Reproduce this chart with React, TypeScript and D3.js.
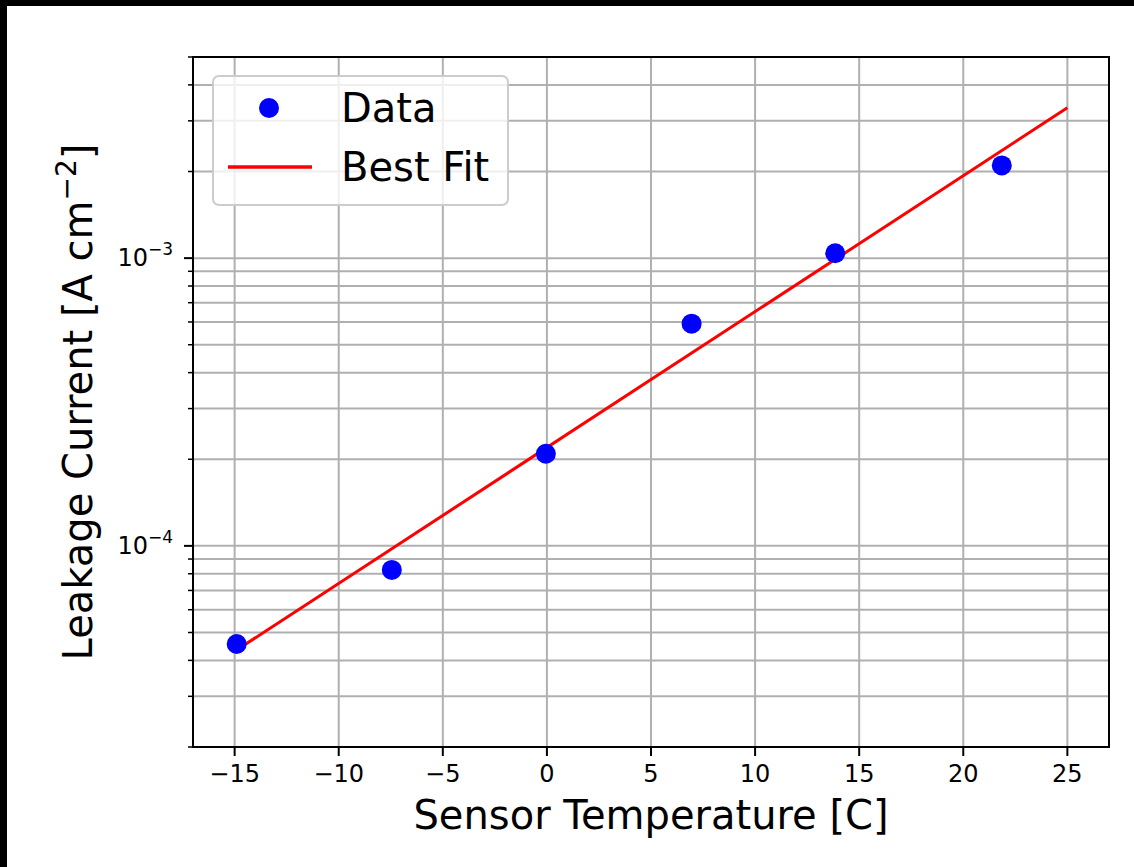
import React from "react";
import * as d3 from "d3";

const xTicks = [-15, -10, -5, 0, 5, 10, 15, 20, 25];
const yMajorExps = [-4, -3];
const dataTemp = [-14.9, -7.45, -0.05, 6.95, 13.85, 21.85];
const dataCurrent = [4.56e-5, 8.25e-5, 2.09e-4, 5.92e-4, 1.04e-3, 2.1e-3];
const fitTemp = [-15, 25];
const fitCurrent = [4.3e-5, 3.33e-3];
const legendLabels = ["Data", "Best Fit"];

const W = 1134;
const H = 867;
const left = 193, right = 1109, top = 57, bottom = 747;
const FONT = "'DejaVu Sans', sans-serif";

export default function App() {
  const x = d3.scaleLinear().domain([-17, 27]).range([left, right]);
  const y = d3.scaleLog().domain([2e-5, 5e-3]).range([bottom, top]);
  const allY = y.ticks().filter((v) => v >= 2e-5 * 0.999 && v <= 5e-3 * 1.001);
  const isMajor = (v: number) => Math.abs(Math.log10(v) - Math.round(Math.log10(v))) < 1e-6;
  const minorY = allY.filter((v) => !isMajor(v));
  const majorY = yMajorExps.map((e) => Math.pow(10, e));
  const line = d3
    .line<number>()
    .x((_, i) => x(fitTemp[i]))
    .y((_, i) => y(fitCurrent[i]));
  const grid = "#b0b0b0";

  return (
    <svg
      width={W}
      height={H}
      style={{ position: "absolute", left: 0, top: 0, background: "#fff" }}
      fontFamily={FONT}
    >
      <rect x={0} y={0} width={W} height={H} fill="#fff" />
      <rect x={0} y={0} width={W} height={6} fill="#000" />
      <rect x={0} y={0} width={7} height={H} fill="#000" />

      {/* grid */}
      {xTicks.map((t) => (
        <line key={"gx" + t} x1={x(t)} x2={x(t)} y1={top} y2={bottom} stroke={grid} strokeWidth={2} />
      ))}
      {allY.map((v, i) => (
        <line key={"gy" + i} x1={left} x2={right} y1={y(v)} y2={y(v)} stroke={grid} strokeWidth={2} />
      ))}

      {/* fit line */}
      <path d={line(fitTemp) || ""} fill="none" stroke="#ff0000" strokeWidth={3} />

      {/* data */}
      {dataTemp.map((t, i) => (
        <circle key={"d" + i} cx={x(t)} cy={y(dataCurrent[i])} r={10} fill="#0000ff" />
      ))}

      {/* spines */}
      <rect x={left} y={top} width={right - left} height={bottom - top} fill="none" stroke="#000" strokeWidth={2} />

      {/* x ticks */}
      {xTicks.map((t) => (
        <g key={"xt" + t}>
          <line x1={x(t)} x2={x(t)} y1={bottom} y2={bottom + 9} stroke="#000" strokeWidth={2} />
          <text x={x(t)} y={bottom + 35} textAnchor="middle" fontSize={24} fill="#000">
            {t < 0 ? "\u2212" + Math.abs(t) : String(t)}
          </text>
        </g>
      ))}

      {/* y ticks */}
      {majorY.map((v, i) => (
        <g key={"yt" + i}>
          <line x1={left - 9} x2={left} y1={y(v)} y2={y(v)} stroke="#000" strokeWidth={2} />
          <text x={left - 20} y={y(v) + 8} textAnchor="end" fontSize={24} fill="#000">
            10
            <tspan fontSize={17} dy={-11}>
              {"\u2212" + Math.abs(yMajorExps[i])}
            </tspan>
          </text>
        </g>
      ))}
      {minorY.map((v, i) => (
        <line key={"ym" + i} x1={left - 5} x2={left} y1={y(v)} y2={y(v)} stroke="#000" strokeWidth={1.5} />
      ))}

      {/* axis labels */}
      <text x={(left + right) / 2} y={829} textAnchor="middle" fontSize={40} fill="#000">
        Sensor Temperature [C]
      </text>
      <text
        transform={`translate(92, ${(top + bottom) / 2}) rotate(-90)`}
        textAnchor="middle"
        fontSize={40}
        fill="#000"
      >
        Leakage Current [A cm
        <tspan fontSize={28} dy={-16}>{"\u22122"}</tspan>
        <tspan dy={16}>]</tspan>
      </text>

      {/* legend */}
      <rect x={213} y={76} width={295} height={129} rx={6} fill="#fff" fillOpacity={0.8} stroke="#cccccc" strokeWidth={2} />
      <circle cx={269} cy={108} r={10} fill="#0000ff" />
      <line x1={228} x2={312} y1={167} y2={167} stroke="#ff0000" strokeWidth={3.5} />
      <text x={341} y={122} fontSize={40} fill="#000">{legendLabels[0]}</text>
      <text x={341} y={181} fontSize={40} fill="#000">{legendLabels[1]}</text>
    </svg>
  );
}
